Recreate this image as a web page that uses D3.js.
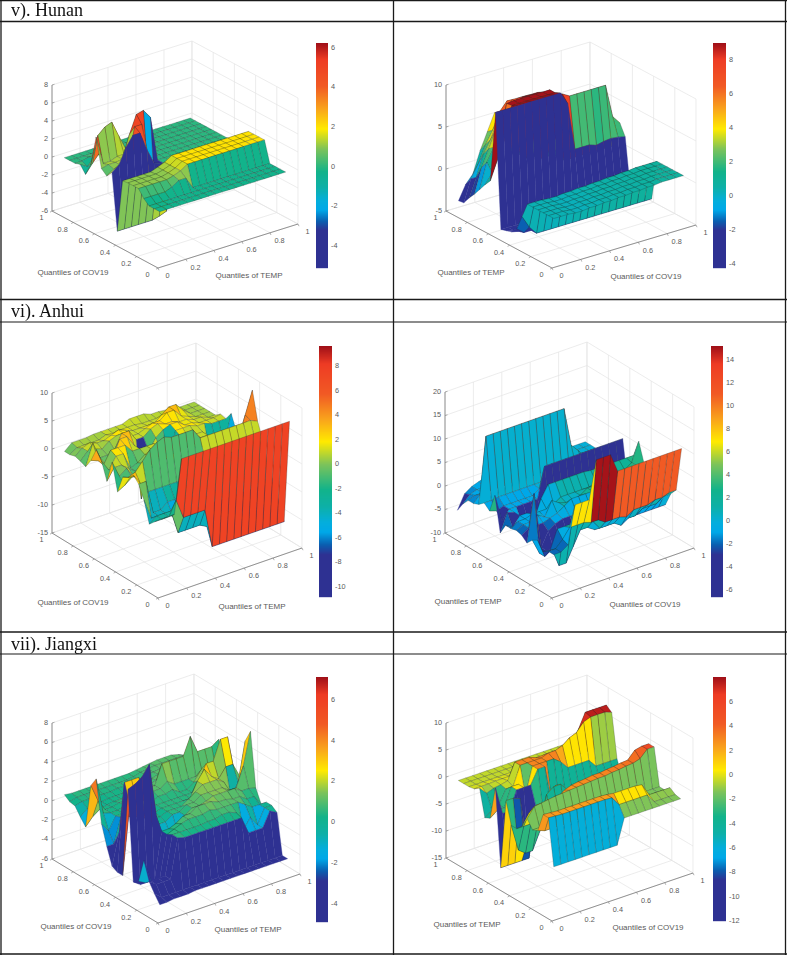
<!DOCTYPE html>
<html><head><meta charset="utf-8">
<script src="https://cdn.jsdelivr.net/npm/d3@7"></script>
<style>html,body{margin:0;padding:0;background:#fff}svg{display:block}</style>
</head><body><svg id="c" width="787" height="955"></svg>
<script>
// Quantile grid
const quantiles = [.05,.1,.15,.2,.25,.3,.35,.4,.45,.5,.55,.6,.65,.7,.75,.8,.85,.9,.95];
// Each row is one COV/TEMP quantile (front to back); a short row keeps its last value to the end.
const hunanTemp = [
[-.3],[-.3],[-.3],
[.2,.2,.2,.2,.5,1,1,-.3],
[1,1,1,1,1,1.2,1.5,2],[1,1,1,1,1,1.2,1.5,2],[1,1,1,1,1,1.2,1.5,2],[.9,.9,.9,.9,.9,1.2,1.5,2],
[-5,-5,-5,-5,-5,-5,-4.8,-4.5,0],
[1.2,1.8,3.5,4.6,4.6,2.5,.8,.5,0],
[.5,1,1.2,1.2,5,5,-2,-4.5,0],
[1,1.2,1.2,1.3,3.8,5.8,6,5,0],
[4.2,1,1,1.3,1.3,1.5,1.3,1,0],
[.8,3.8,4.5,4.8,3,1.3,1,.5,0],
[-.6,.4,1.3,3.5,1.3,.5,.5,0],
[.2,-.3,.5,.8,.5,0],
[0,0,.2,.2,0],[0],[0]];
const hunanCov = [
[.3,.3,.3,.2,.2,.3,.3,.4,.4,.5,.5,.6,.6,.7,.7,.8],[.3,.3,.3,.2,.2,.3,.3,.4,.4,.5,.5,.6,.6,.7,.7,.8],
[.3,.3,.3,.2,.2,.3,.3,.4,.4,.5,.5,.6,.6,.7,.7,.8],[.3,.3,.3,.2,.2,.3,.3,.4,.4,.5,.5,.6,.6,.7,.7,.8],
[.3,.3,.3,.2,.2,.3,.3,.4,.4,.5,.5,.6,.6,.7,.7,.8],[.3,.3,.3,.2,.2,.3,.3,.4,.4,.5,.5,.6,.6,.7,.7,.8],
[-1.5,-3,-4],[-3.3,-4],[-4,-4.2],[-4.2,-4.4],[-4.4],
[9.2,9.2,9.2,9.2,9.2,9.2,9.2,9.2,9.2,9.2,7.7,2,2,2,1.7,1.9,2,1.9,1.7],
[.7,3,6,8.9,8.9,8.9,8.9,8.9,8.9,8.9,8.5,8,8,8,8,8,8,4,3],
[-.1,1,3.5,8.8,8.9,8.9,8.9,8.9,8.9,8.9,3,0],
[-1,2,3.5,5,7,8,8.5,8.5,8.5,8,2,0],
[-1.9,1,3,5,6,7,8,8,3,0],
[-2.7,-.5,2,3.5,5.5,6.5,7.5,7,0],
[-3.6,-1,.5,2.5,4,6,7,2,0],
[-3.7,-2,-1,1.5,3.5,5.5,3,0]];
const anhuiTemp = [
[-2,-2,-2,7.5],
[-3,-3,-3,-.5,-4,-4,-4,-4,-11],
[-4,-3,-3,-3,-7.3,-7.3,-7.3,-7.3,-8],
[-.3,-4,-4,-4,-5,-5,-5,-5,-5],
[2,2,-4,-4,-3],
[3,1,-.9,-.9,-.9,-.9,-.9,-.9,-.9,-.9,1],
[2,2.5,4,5.6,6.5,7,6.5,6.5,6.5,6.5,4.6,4.6,4.6,4.6,4.6,4.6,4.6,4.6,4],
[1.5,1,1,2,2,3,3,3,3,3,3,2,2,2,1.5,1.5,1,5,9],
[-1.7,-1,0,1,2,1,2,1,2,2,2,1.5,1,1,1,1,1,1,3],
[3,0,1,-1,-1,-1,0,1,1,.5,1,1,1,1,1,1,1,1,1.7],
[-1,1,1,0,-1,0,1,1,2,2,1.5,1.5,1.5,1,1,-5,-5,-5,-.2],
[2,0,2,2,-1,-.5,.5,1,1,.5,-3,1.5,1,1,1,-3,-3,-3,2.5],
[3.5,.3,2.5,2.5,2.5,1,1,1,1,-1,-3,2,2,2,1.5,1.5,1],
[1,.5,-.5,0,3,3,1,-9,-1,1,2,2.5,2.5,1.5,1.5,1,1,1,1.2],
[-.7,3,0,0,.5,3,3,1,1,2,2.5,2,2,1.5,1.5,1,1,.5],
[-.3,1,1,.5,1.5,2,2,1,1,1.5,2,2,3,3,1.5,1,.5],
[0,1,1.5,1,1,1.5,2,1.5,1,1,1,1,2,3,3,1.5,.5],
[-.3,.5,.5,.5,.5,1,.8,1,1,1,.8,.8,.8,.8,1,.8,.5],
[-.3,.8,.8,.8,1,1,1,1,1,1.5,1.5,1.5,1,1,.8,.8,.5]];
const anhuiCov = [
[-2,-2,-1,7,7,7,15,15,15,11],
[-2,-2,-.5,1.5,1.5,1.5,1,1,0,0,0,-.5,.5,.5,.5,1,1,1.5],
[-2.7,-3,1,1,1,1,1,0,-2,-2,-2,-3,-2,-2,-1,-1,-1,0],
[-1,-5,-4,-8,-8,-5,-2,-2,-3],
[-1.7,-5,-5,-5,-5,-3,-2],
[-3,7,-5,-2,-1,-.5],
[-2,-1,-1,-1,-.5,0,1,2,2,2,2,2,2,2,2,3],
[-1.7,-1,-1,0,-1,2,1,.5,.5,1,2,2,2,3,3,3],
[-2,-1,-1,-.5,-.5,-.5,0,1,1,1,1,1,1.5,1.5,1.5,2,2,3,7],
[-2,-3,-1,-1,-3,1,3.5,3.5,3.5,3.5,3.5,3.5,3.3],
[-4.3,-.5,-1,-3.5,-4,-4,-3,-4],
[3,-3,-1,-1,-1,-1,-1,5.5],
[-1,-1.5,-1,-1,-1,-1,-1,0],
[0,0,.2],
[-1,13,13,13,13,13,13,13,13,13,13,13,13,4.7,3,1],
[-1.5,0,0,0,0,0,0,0,0,0,0,0,0,0,0,1],
[-1.5,-1,-1,-.5,0],
[-3,-1.5,-1,-1,0],
[-5,-2,-1,-.5,0]];
const jiangxiTemp = [
[-4.7,-4.7,-4.6,-4.6,-4.6,-4.5],
[-3.9,-4.5],
[-3,-3.5,-3.5,-3.5,.5,.3,.3,.3,.3,.3,.3,.3,.3,.3,-1.5,-1.5,-1.5,0,-.4],
[-1.1,-3.5,-3.5,-3.5,.5,.5,.5,.5,.5,.6,.6,.8,.8,.5,-1.5,-.5,-1.5,0,0],
[-3.6,-4,-4,-4,.2,.5,.8,1,1,1,1.2,1,1,1,1,.5,0],
[-4,-4.5,-4.5,-4.5,.2,.2,.5,1,1,1.5,1.5,1.5,1.2,1.2,1,1,.5,.5,-.5],
[5.2,5.5,6,7,1.4,-1,-1,-1,.5,1,1,1.2,1.5,1.5,1.5,1.5,1,1,.8],
[-4,3,3,3,0,0,0,.5,.5,1,1,1.5,1.5,1.5,1.5,1,1,3,6.3],
[-4,5,5,5,.5,.3,.2,.5,.5,.5,1,1.5,2,2,2,1.5,-.5,1,5],
[-3.7,-.5,1,.5,.5,.3,.3,.5,.5,.5,.5,.5,2,3,2,1.5,2.5,2.5,1],
[-2,-2,.5,.5,.5,.3,.3,.5,.5,.5,.5,.5,.5,1.5,3,3,5,5,1],
[0,-1,.3,.3,.5,.3,.5,.5,.8,.8,1,.5,.5,1,2,2,1,.5],
[4.3,.5,.3,.3,.5,.5,.5,.8,1,1,1.5,1,1,1,1,1,1,.5],
[3.3,1.5,.3,.3,.5,.5,.5,.5,1,1,3,3,3,3,4.8,3,3,3,3.5],
[-1.3,-.5,0,.2,.3,.3,.5,.5,.5,.8,1,1,1,1,.5,1.5,.5,.5,1],
[-.6,0,.2,.2,.3,.3,.3,.5,.5,.8,.8,1,1,1,1,1,1,1,1],
[.2,.4,.4,.4,.4,.4,.5,.5,.5,.6,.8,.9,1,1,1,1,1,1,.8],
[.3,.5,.5,.5,.5,.5,.5,.5,.5,.6,.8,.9,1,1,1,1,1,.8,.5],
[.7,.6,.6,.6,.6,.6,.6,.6,.6,.6,.7,.8,.9,1,1,1,.8,.5,.3]];
const jiangxiCov = [
[-6,-6,-6,-6,-6,-6,-6,-6,-6,-6,-1.4],
[2.5,2.4,2.3,2.3,2.3,2.3,2.3,2.3,2.3,2.2,.5,.5,.5,.5,.5,-1.2],
[2.5,2.4,2.3,2.3,2.3,2.3,2.3,2.3,2.3,2.2,2,2,2,2,1.8,-.5],
[-1,-1.5],[-1.5],
[0,1.8,2,2.2,2.4,2.5,2.6,2.7,2.8,2.9,3,3,3.2,3.3,3.5,3.6,4,5.3],
[-2,0,1,1,1,1,2,2.5,2.7,2.8,3,3,3.2,3.3,3.5,3.6,5,5.3],
[-3,-3,-3,-3,-3,-4,-4,-4,-4,-4,-4,-4,-4,-4,-2],
[-3,-8,-9,-9,-6,.5,1.5,1.5,0,-2,-3,-4,-4,-4,-3.5,-3,-2],
[1,1,.5,-8,-5,-4,-4,.7,-.5,-4.5,-4],
[-12,-12,-12,-12,-12,-3,-4],
[2.2,-3,-3,.5,.5,.5,3,3,-4],
[-4,-3,-3,.5,.5,-2,3,3,3,3,2,.5,.5,.5,.5,-1],
[-4.5,-3.5,-3,-.5,-.5,3,3,3,3,3.5,3.5,4,5,5.5,7,7.5,7.5,7.5,7],
[.4,-1,-.5,-.3,0,3,3,3,2.5,2.5,2.5,2.5,3,3,5,7.8],
[-.3,-.3,-.3,-.2,-.2,-.2,0,0,0,.1,.1,-.2,-.5],
[-.5],[-.5],[-.5]];

const tickValues = [0,.2,.4,.6,.8,1];
const titles = ["v). Hunan","vi). Anhui","vii). Jiangxi"];
const labelCov = "Quantiles of COV19", labelTemp = "Quantiles of TEMP";
const colorStops = [0,.17,.21,.26,.30,.36,.43,.53,.62,.71,.81,.93,1];
const colorRamp = ["#2e3192","#2e3192","#0a5eb0","#00a8e8","#04aedc","#0db0a8","#12b38a","#7cc35a","#ffea00","#f9a31c","#f15a24","#ee3b24","#a01018"];

const panels = [
 {z:hunanTemp,zDom:[-6,8],zT:[-6,-4,-2,0,2,4,6,8],cDom:[-5.15,6.2],cT:[-4,-2,0,2,4,6],yL:labelCov,xL:labelTemp,O:[158,268],R:[298,224],L:[52,211],h:126,bar:[316,43,12,225],yLp:[73,273],xLp:[249,276]},
 {z:hunanCov,zDom:[-5,10],zT:[-5,0,5,10],cDom:[-4.3,8.94],cT:[-4,-2,0,2,4,6,8],yL:labelTemp,xL:labelCov,O:[552,268],R:[696,225],L:[446,211],h:126,bar:[713,43,13,225],yLp:[471,273],xLp:[646,277]},
 {z:anhuiTemp,zDom:[-15,10],zT:[-15,-10,-5,0,5,10],cDom:[-10.9,9.6],cT:[-10,-8,-6,-4,-2,0,2,4,6,8],yL:labelCov,xL:labelTemp,O:[158,598],R:[302,548],L:[52,533],h:140,bar:[319,346,13,251],yLp:[73,603],xLp:[252,607]},
 {z:anhuiCov,zDom:[-10,20],zT:[-10,-5,0,5,10,15,20],cDom:[-6.7,15.1],cT:[-6,-4,-2,0,2,4,6,8,10,12,14],yL:labelTemp,xL:labelCov,O:[552,598],R:[694,548],L:[445,533],h:141,bar:[711,346,12,251],yLp:[468,602],xLp:[645,605]},
 {z:jiangxiTemp,zDom:[-6,8],zT:[-6,-4,-2,0,2,4,6,8],cDom:[-4.93,7.08],cT:[-4,-2,0,2,4,6],yL:labelCov,xL:labelTemp,O:[158,923],R:[300,874],L:[52,859],h:136,bar:[316,677,12,245],yLp:[76,927],xLp:[248,930]},
 {z:jiangxiCov,zDom:[-15,10],zT:[-15,-10,-5,0,5,10],cDom:[-12.07,7.97],cT:[-12,-10,-8,-6,-4,-2,0,2,4,6],yL:labelTemp,xL:labelCov,O:[552,921],R:[693,873],L:[446,858],h:135,bar:[713,677,13,244],yLp:[467,925],xLp:[648,928]}
];

const svg = d3.select("#c");
const root = svg.append("g").style("filter","blur(0.45px)");
root.append("rect").attr("width",787).attr("height",955).attr("fill","#fff");
const tone = d3.scaleLinear().domain(colorStops).range(colorRamp).clamp(true);
const fmt = v=>String(v);

panels.forEach(p=>{
  const g = root.append("g");
  const xu = d3.scaleLinear([0,1],[0,p.R[0]-p.O[0]]), xv = d3.scaleLinear([0,1],[0,p.R[1]-p.O[1]]);
  const yu = d3.scaleLinear([0,1],[0,p.L[0]-p.O[0]]), yv = d3.scaleLinear([0,1],[0,p.L[1]-p.O[1]]);
  const zv = d3.scaleLinear(p.zDom,[0,-p.h]);
  const cNorm = d3.scaleLinear(p.cDom,[0,1]);
  const P = (x,y,z)=>[p.O[0]+xu(x)+yu(y), p.O[1]+xv(x)+yv(y)+zv(z)];
  const zMin=p.zDom[0], zMax=p.zDom[1];
  const seg=(a,b,col,w)=>g.append("line").attr("x1",a[0]).attr("y1",a[1]).attr("x2",b[0]).attr("y2",b[1]).attr("stroke",col).attr("stroke-width",w);
  const gridCol="#e4e4e4";
  tickValues.forEach(t=>{
    seg(P(t,0,zMin),P(t,1,zMin),gridCol,.7); seg(P(t,1,zMin),P(t,1,zMax),gridCol,.7);
    seg(P(0,t,zMin),P(1,t,zMin),gridCol,.7); seg(P(1,t,zMin),P(1,t,zMax),gridCol,.7);
  });
  p.zT.forEach(t=>{ seg(P(0,1,t),P(1,1,t),gridCol,.7); seg(P(1,1,t),P(1,0,t),gridCol,.7); });
  // surface, painted from the far corner forward
  const val=(i,j)=>{const r=p.z[i];return j<r.length?r[j]:r[r.length-1];};
  const faces=[];
  for(let i=quantiles.length-2;i>=0;i--) for(let j=quantiles.length-2;j>=0;j--) faces.push({i,j});
  g.append("g").selectAll("path").data(faces).join("path")
   .attr("d",f=>{
     const x0=quantiles[f.j],x1=quantiles[f.j+1],y0=quantiles[f.i],y1=quantiles[f.i+1];
     return d3.line()([P(x0,y0,val(f.i,f.j)),P(x1,y0,val(f.i,f.j+1)),P(x1,y1,val(f.i+1,f.j+1)),P(x0,y1,val(f.i+1,f.j))])+"Z";
   })
   .attr("fill",f=>tone(cNorm(val(f.i,f.j))))
   .attr("stroke",f=>cNorm(val(f.i,f.j))<.17?tone(0):"#1c2a2a").attr("stroke-width",.35)
   .attr("stroke-opacity",f=>cNorm(val(f.i,f.j))<.17?1:.7).attr("stroke-linejoin","round");
  // axes
  const ax="#7a7a7a";
  seg(P(0,0,zMin),P(1,0,zMin),ax,.8); seg(P(0,0,zMin),P(0,1,zMin),ax,.8); seg(P(0,1,zMin),P(0,1,zMax),ax,.8);
  const txt=(xy,s,anchor)=>g.append("text").attr("x",xy[0]).attr("y",xy[1]).attr("text-anchor",anchor||"middle").attr("dominant-baseline","middle")
     .attr("font-family","Liberation Sans, Arial, sans-serif").attr("font-size",7.3).attr("fill","#5a5a5a").text(s);
  tickValues.forEach(t=>{
    const a=P(t,0,zMin), b=P(0,t,zMin);
    seg(a,[a[0]+1,a[1]+2.2],ax,.6); seg(b,[b[0]-2,b[1]+1.2],ax,.6);
    txt([a[0]+9.5,a[1]+8.5],fmt(t)); txt([b[0]-10.5,b[1]+7.5],fmt(t));
  });
  p.zT.forEach(t=>{ const a=P(0,1,t); seg(a,[a[0]+2.5,a[1]-.7],ax,.6); txt([a[0]-4,a[1]],fmt(t),"end"); });
  [[p.yL,p.yLp],[p.xL,p.xLp]].forEach(([s,q])=>txt(q,s).attr("font-size",8));
  // colour bar
  const [bx,by,bw,bh]=p.bar;
  const cs=d3.scaleLinear(p.cDom,[by+bh,by]);
  g.append("g").selectAll("rect").data(d3.range(bh)).join("rect").attr("x",bx).attr("y",d=>by+d).attr("width",bw).attr("height",1.2)
    .attr("fill",d=>tone(1-d/bh));
  const ag=g.append("g").attr("transform",`translate(${bx+bw},0)`).call(d3.axisRight(cs).tickValues(p.cT).tickSize(0).tickPadding(3).tickFormat(fmt));
  ag.select(".domain").remove();
  ag.selectAll("text").attr("font-family","Liberation Sans, Arial, sans-serif").attr("font-size",7.3).attr("fill","#5a5a5a");
});

// table frame and row titles
const rules=[[.5,1.5],[21.5,1.4],[299.5,1.6],[322,1.2],[632,1.4],[654,1.2],[954,1.6]];
rules.forEach(([y,w])=>root.append("line").attr("x1",0).attr("x2",787).attr("y1",y).attr("y2",y).attr("stroke","#1a1a1a").attr("stroke-width",w));
[1,393.5,785.5].forEach(x=>root.append("line").attr("x1",x).attr("x2",x).attr("y1",0).attr("y2",955).attr("stroke","#1a1a1a").attr("stroke-width",1.3));
[[11,16],[11,317],[11,650]].forEach(([x,y],i)=>root.append("text").attr("x",x).attr("y",y).attr("font-family","Liberation Serif, Times New Roman, serif").attr("font-size",18).attr("fill","#111").text(titles[i]));
</script></body></html>
